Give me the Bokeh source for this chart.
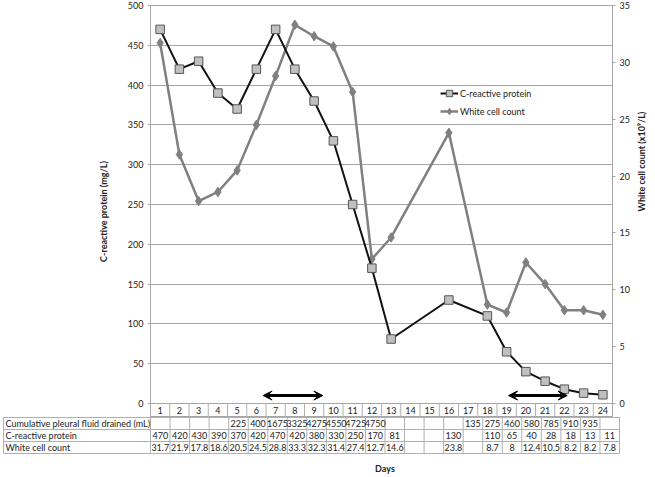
import math
from bokeh.plotting import figure
from bokeh.models import (Range1d, LinearAxis, FixedTicker, Arrow, VeeHead,
                          Legend, LegendItem)
from bokeh.embed import file_html
from bokeh.resources import INLINE
from bokeh.core.properties import value

# ---------------- data ----------------
days = list(range(1, 25))
crp = [470, 420, 430, 390, 370, 420, 470, 420, 380, 330, 250, 170, 81,
       None, None, 130, None, 110, 65, 40, 28, 18, 13, 11]
wcc = [31.7, 21.9, 17.8, 18.6, 20.5, 24.5, 28.8, 33.3, 32.3, 31.4, 27.4, 12.7, 14.6,
       None, None, 23.8, None, 8.7, 8, 12.4, 10.5, 8.2, 8.2, 7.8]
fluid = [None, None, None, None, 225, 400, 1675, 3325, 4275, 4550, 4725, 4750,
         None, None, None, None, 135, 275, 460, 580, 785, 910, 935, None]
row_labels = ["Cumulative pleural fluid drained (mL)", "C-reactive protein", "White cell count"]
crp_ticks = [0, 50, 100, 150, 200, 250, 300, 350, 400, 450, 500]
wcc_ticks = [0, 5, 10, 15, 20, 25, 30, 35]
arrow_x0 = [6.35, 19.1]
arrow_x1 = [9.45, 22.15]
arrow_level = 10

# ---------------- layout constants ----------------
FONT = "Lato"
FS = "9px"
W = 655
BL, BR = 150, 36
FRAME_W = W - BL - BR
PX_PER_DAY = FRAME_W / 24
CHART_PX = 398
HEADER_PX = 14
TOP = 5
ROW_PX = 15
TBL_L = 3
CRP_MAX = 500
WCC_MAX = 35
Y0 = -HEADER_PX * CRP_MAX / CHART_PX
GRID = "#a6a6a6"
TABLE = "#b0b0b0"
TXT = "#222222"

# ---------------- chart ----------------
p = figure(width=W, height=TOP + CHART_PX + HEADER_PX, output_backend="svg",
           toolbar_location=None, x_range=Range1d(0.5, 24.5),
           y_range=Range1d(Y0, CRP_MAX), min_border_left=BL, min_border_right=BR,
           min_border_top=TOP, min_border_bottom=0, x_axis_location=None)
p.xgrid.visible = False
p.outline_line_color = GRID
p.ygrid.ticker = FixedTicker(ticks=crp_ticks)
p.ygrid.grid_line_color = GRID
p.yaxis.ticker = FixedTicker(ticks=crp_ticks)
p.yaxis.axis_label = "C-reactive protein (mg/L)"
p.yaxis.axis_label_standoff = 16

p.extra_y_ranges = {"wcc": Range1d(Y0 * WCC_MAX / CRP_MAX, WCC_MAX)}
right = LinearAxis(y_range_name="wcc", ticker=FixedTicker(ticks=wcc_ticks),
                   axis_label="White cell count (x10\u2079/L)")
p.add_layout(right, "right")

for ax in p.yaxis:
    ax.axis_line_color = GRID
    ax.major_tick_line_color = GRID
    ax.major_tick_out = 3
    ax.major_tick_in = 0
    ax.minor_tick_line_color = None
    ax.major_label_standoff = 4
    ax.major_label_text_font = FONT
    ax.major_label_text_font_size = FS
    ax.major_label_text_color = TXT
    ax.axis_label_text_font = FONT
    ax.axis_label_text_font_size = FS
    ax.axis_label_text_font_style = "bold"
    ax.axis_label_text_color = TXT
right.axis_label_standoff = 9
try:
    right.axis_label_orientation = math.pi / 2
except Exception:
    pass

wx = [d for d, v in zip(days, wcc) if v is not None]
wy = [v for v in wcc if v is not None]
cx = [d for d, v in zip(days, crp) if v is not None]
cy = [v for v in crp if v is not None]

l2 = p.line(wx, wy, y_range_name="wcc", line_color="#808080", line_width=2.5)
s2 = p.scatter(wx, wy, y_range_name="wcc", marker="diamond", size=9.5,
               fill_color="#808080", line_color="#808080")
l1 = p.line(cx, cy, line_color="#111111", line_width=2)
s1 = p.scatter(cx, cy, marker="square", size=8.5, fill_color="#c0c0c0",
               line_color="#555555", line_width=1)

# header row of the data table (day numbers)
p.segment(x0=[k + 0.5 for k in range(1, 24)], y0=0, x1=[k + 0.5 for k in range(1, 24)],
          y1=Y0, line_color=TABLE, line_width=1)
p.text(x=days, y=[Y0 / 2] * 24, text=[str(d) for d in days], text_align="center",
       text_baseline="middle", text_font=value(FONT), text_font_size=FS, text_color=TXT)

for a, b in zip(arrow_x0, arrow_x1):
    p.add_layout(Arrow(start=VeeHead(size=9, fill_color="black", line_color="black"),
                       end=VeeHead(size=9, fill_color="black", line_color="black"),
                       x_start=a, x_end=b, y_start=arrow_level, y_end=arrow_level,
                       line_width=3, line_color="black"))

legend = Legend(items=[LegendItem(label="C-reactive protein", renderers=[l1, s1]),
                       LegendItem(label="White cell count", renderers=[l2, s2])],
                location=(290, 298), background_fill_alpha=0, border_line_alpha=0,
                padding=0, spacing=2, glyph_width=18, glyph_height=16, label_height=16,
                label_standoff=2, label_text_font=FONT, label_text_font_size=FS,
                label_text_color=TXT)
p.add_layout(legend)

# ---------------- data table ----------------
x_start = 0.5 - (BL - TBL_L) / PX_PER_DAY
q = figure(width=W, height=3 * ROW_PX + 14, output_backend="svg", toolbar_location=None,
           x_range=Range1d(x_start, 24.5), y_range=Range1d(0, 3),
           min_border_left=TBL_L, min_border_right=BR, min_border_top=0,
           min_border_bottom=14, y_axis_location=None)
q.xgrid.visible = False
q.ygrid.visible = False
q.outline_line_color = TABLE
q.xaxis.ticker = FixedTicker(ticks=[12.5])
q.xaxis.major_label_overrides = {12.5: "Days"}
q.xaxis.axis_line_color = None
q.xaxis.major_tick_line_color = None
q.xaxis.minor_tick_line_color = None
q.xaxis.major_label_standoff = 3
q.xaxis.major_label_text_font = FONT
q.xaxis.major_label_text_font_size = FS
q.xaxis.major_label_text_font_style = "bold"
q.xaxis.major_label_text_color = TXT

q.segment(x0=[k + 0.5 for k in range(0, 24)], y0=0, x1=[k + 0.5 for k in range(0, 24)],
          y1=3, line_color=TABLE, line_width=1)
q.segment(x0=x_start, y0=[1, 2], x1=24.5, y1=[1, 2], line_color=TABLE, line_width=1)

row_y = [2.5, 1.5, 0.5]
q.text(x=[x_start] * 3, y=row_y, text=row_labels, x_offset=2, text_align="left",
       text_baseline="middle", text_font=value(FONT), text_font_size=FS, text_color=TXT)

tx, ty, tt = [], [], []
for rv, series in zip(row_y, [fluid, crp, wcc]):
    for d, v in zip(days, series):
        if v is not None:
            tx.append(d)
            ty.append(rv)
            tt.append(str(v))
q.text(x=tx, y=ty, text=tt, text_align="center", text_baseline="middle",
       text_font=value(FONT), text_font_size=FS, text_color=TXT)

open("out.html", "w").write(file_html([p, q], INLINE))
